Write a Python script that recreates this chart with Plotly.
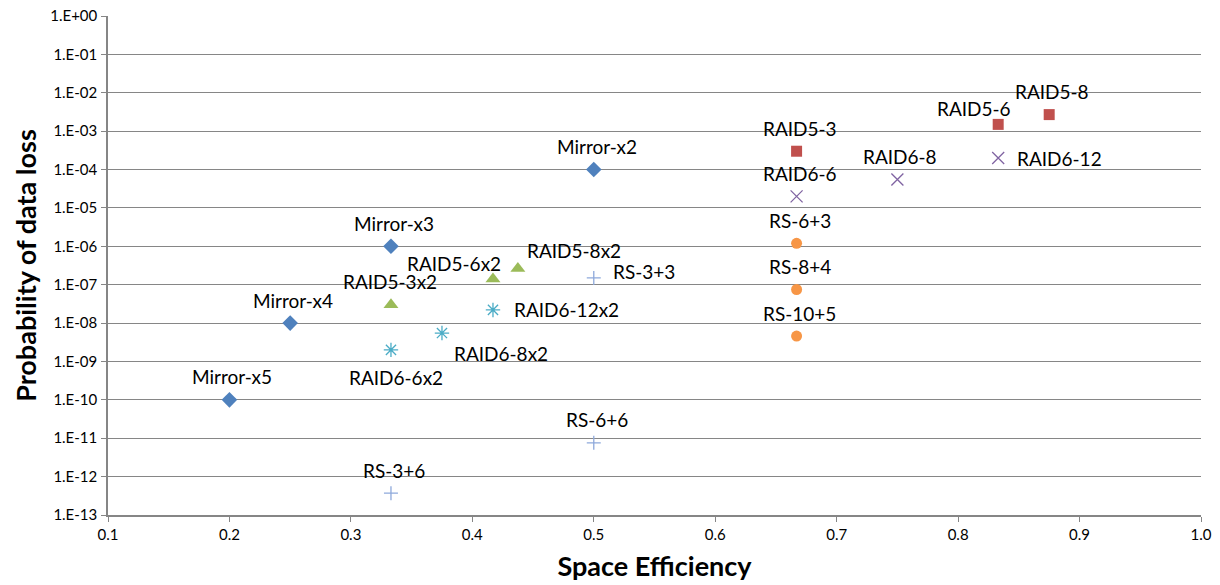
import math
import plotly.graph_objects as go

# ---------------- data ----------------
mirror_x = [0.2, 0.25, 0.333, 0.5]
mirror_y = [1.0e-10, 1.0e-8, 1.0e-6, 1.0e-4]
mirror_labels = ["Mirror-x5", "Mirror-x4", "Mirror-x3", "Mirror-x2"]

raid5_x = [0.667, 0.833, 0.875]
raid5_y = [3.0e-4, 1.5e-3, 2.7e-3]
raid5_labels = ["RAID5-3", "RAID5-6", "RAID5-8"]

raid6_x = [0.667, 0.75, 0.833]
raid6_y = [2.0e-5, 5.5e-5, 2.0e-4]
raid6_labels = ["RAID6-6", "RAID6-8", "RAID6-12"]

rs_x = [0.667, 0.667, 0.667]
rs_y = [1.2e-6, 7.5e-8, 4.6e-9]
rs_labels = ["RS-6+3", "RS-8+4", "RS-10+5"]

raid5x2_x = [0.333, 0.417, 0.4375]
raid5x2_y = [3.0e-8, 1.4e-7, 2.65e-7]
raid5x2_labels = ["RAID5-3x2", "RAID5-6x2", "RAID5-8x2"]

raid6x2_x = [0.333, 0.375, 0.417]
raid6x2_y = [2.0e-9, 5.5e-9, 2.2e-8]
raid6x2_labels = ["RAID6-6x2", "RAID6-8x2", "RAID6-12x2"]

rsx_x = [0.5, 0.5, 0.333]
rsx_y = [1.5e-7, 7.6e-12, 3.7e-13]
rsx_labels = ["RS-3+3", "RS-6+6", "RS-3+6"]

y_tick_vals = [1e0, 1e-1, 1e-2, 1e-3, 1e-4, 1e-5, 1e-6, 1e-7,
               1e-8, 1e-9, 1e-10, 1e-11, 1e-12, 1e-13]
y_tick_text = ["1.E+00", "1.E-01", "1.E-02", "1.E-03", "1.E-04", "1.E-05",
               "1.E-06", "1.E-07", "1.E-08", "1.E-09", "1.E-10", "1.E-11",
               "1.E-12", "1.E-13"]
x_tick_vals = [0.1, 0.2, 0.3, 0.4, 0.5, 0.6, 0.7, 0.8, 0.9, 1.0]
x_tick_text = ["0.1", "0.2", "0.3", "0.4", "0.5", "0.6", "0.7", "0.8", "0.9", "1.0"]

# ---------------- styles ----------------
# label placement: (xanchor, xshift px, yshift px) relative to the marker
DEFAULT_LABEL = ("center", 3, 23)
label_offset = {
    "RAID5-6": ("center", -24, 16),
    "RAID6-12": ("left", 17, -1),
    "RS-3+3": ("left", 17, 6),
    "RAID5-3x2": ("center", -1, 23),
    "RAID5-6x2": ("center", -39, 16),
    "RAID5-8x2": ("center", 56, 18),
    "RAID6-12x2": ("left", 19, 0),
    "RAID6-8x2": ("center", 59, -20),
    "RAID6-6x2": ("center", 5, -28),
}

series = [
    (mirror_x, mirror_y, mirror_labels, "diamond", "#4F81BD", 12, False),
    (raid5_x, raid5_y, raid5_labels, "square", "#C0504D", 11, False),
    (raid6_x, raid6_y, raid6_labels, "x-thin-open", "#8064A2", 12, True),
    (rs_x, rs_y, rs_labels, "circle", "#F79646", 11, False),
    (raid5x2_x, raid5x2_y, raid5x2_labels, "triangle-up", "#9BBB59", 13, False),
    (raid6x2_x, raid6x2_y, raid6x2_labels, "asterisk-open", "#4BACC6", 12, True),
    (rsx_x, rsx_y, rsx_labels, "cross-thin-open", "#8EA9DB", 10, True),
]

LABEL_FONT = dict(family="Lato", size=19, color="#000000")
TICK_FONT = dict(family="Lato", size=15, color="#000000")
TITLE_FONT = dict(family="Lato", size=27, color="#000000", weight="bold")
GRAY = "#868686"

fig = go.Figure()
annotations = []
for xs, ys, labels, symbol, color, size, thin in series:
    marker = dict(symbol=symbol, color=color, size=size)
    if thin:
        marker["line"] = dict(color=color, width=1.3)
    else:
        marker["line"] = dict(width=0)
    fig.add_trace(go.Scatter(
        x=xs, y=ys, mode="markers",
        marker=marker,
        showlegend=False,
        cliponaxis=False,
        hovertext=labels,
    ))
    for xv, yv, lab in zip(xs, ys, labels):
        anchor, dx, dy = label_offset.get(lab, DEFAULT_LABEL)
        annotations.append(dict(
            x=xv, y=math.log10(yv), xref="x", yref="y",
            text=lab, showarrow=False,
            xanchor=anchor, yanchor="middle",
            xshift=dx, yshift=dy,
            font=LABEL_FONT,
        ))

fig.update_layout(
    width=1220, height=585,
    margin=dict(l=108, r=19, t=16, b=70),
    paper_bgcolor="white", plot_bgcolor="white",
    font=dict(family="Lato", color="#000000"),
    annotations=annotations,
)
fig.update_xaxes(
    range=[0.1, 1.0],
    tickvals=x_tick_vals, ticktext=x_tick_text,
    tickfont=TICK_FONT,
    showgrid=False, zeroline=False,
    showline=True, linecolor=GRAY, linewidth=1.5,
    ticks="outside", ticklen=5, tickcolor=GRAY,
    title=dict(text="Space Efficiency", font=TITLE_FONT, standoff=15),
    automargin=False,
)
fig.update_yaxes(
    type="log", range=[-13, 0],
    tickvals=y_tick_vals, ticktext=y_tick_text,
    tickfont=TICK_FONT,
    showgrid=True, gridcolor=GRAY, gridwidth=1,
    zeroline=False,
    showline=True, linecolor=GRAY, linewidth=1.5,
    ticks="outside", ticklen=5, tickcolor=GRAY,
    ticklabelstandoff=1,
    title=dict(text="Probability of data loss", font=TITLE_FONT, standoff=6),
    automargin=False,
)

fig.write_html(
    "out.html",
    config={"displayModeBar": False},
    post_script="document.body.style.margin='0';document.body.style.overflow='hidden';",
)
